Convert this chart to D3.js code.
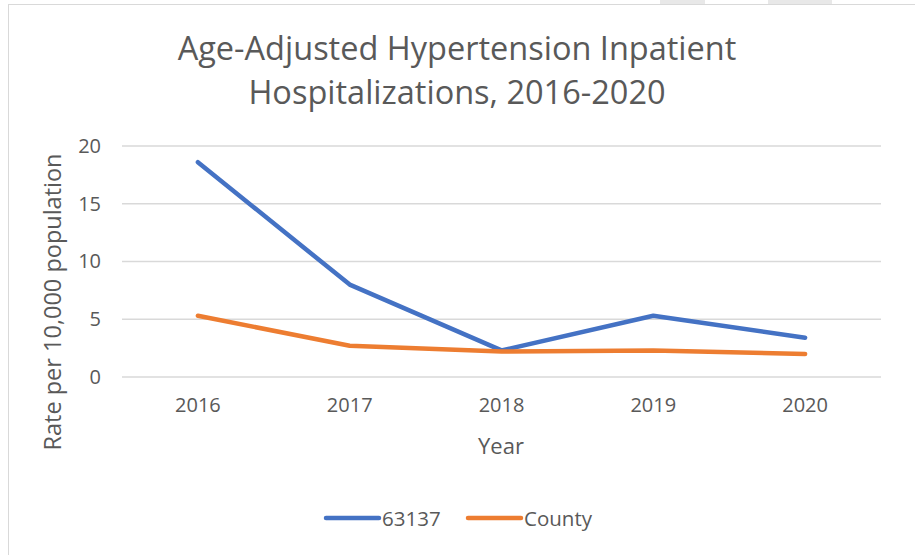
<!DOCTYPE html>
<html lang="en">
<head>
    <meta charset="UTF-8">
    <title>Age-Adjusted Hypertension Inpatient Hospitalizations</title>
    <script src="https://d3js.org/d3.v7.min.js"></script>
    <style>
        body { margin: 0; background: #fff; font-family: "Open Sans", Arial, sans-serif; }
        svg text { fill: #595959; }
    </style>
</head>
<body>
    <svg width="915" height="555"></svg>
    <script>
        // data
        const years = ["2016", "2017", "2018", "2019", "2020"];
        const zip63137 = [18.6, 8.0, 2.3, 5.3, 3.4];
        const county = [5.3, 2.7, 2.2, 2.3, 2.0];
        const yTicks = [0, 5, 10, 15, 20];
        const seriesNames = ["63137", "County"];
        const colors = ["#4472C4", "#ED7D31"];

        const svg = d3.select("svg");

        // chart frame
        svg.append("rect")
            .attr("x", 8.5).attr("y", 4.5)
            .attr("width", 920).attr("height", 560)
            .attr("fill", "#fff").attr("stroke", "#d9d9d9");
        svg.append("rect").attr("x", 660).attr("y", 0).attr("width", 45).attr("height", 4).attr("fill", "#e8e8e8");
        svg.append("rect").attr("x", 768).attr("y", 0).attr("width", 64).attr("height", 4).attr("fill", "#e8e8e8");

        const margin = { left: 122, right: 881, top: 146, bottom: 377 };

        const x = d3.scaleBand()
            .domain(years)
            .range([margin.left, margin.right]);

        const y = d3.scaleLinear()
            .domain([0, 20])
            .range([margin.bottom, margin.top]);

        // gridlines
        svg.append("g")
            .selectAll("line")
            .data(yTicks)
            .enter().append("line")
            .attr("x1", margin.left).attr("x2", margin.right)
            .attr("y1", d => y(d)).attr("y2", d => y(d))
            .attr("stroke", "#d9d9d9").attr("stroke-width", 1.3);

        // y axis
        const yAxis = svg.append("g")
            .attr("transform", `translate(${margin.left - 13},0)`)
            .call(d3.axisLeft(y).tickValues(yTicks).tickSize(0).tickPadding(8));
        yAxis.select(".domain").remove();
        yAxis.selectAll("text")
            .style("font-size", "20px").style("font-family", "'Open Sans', Arial, sans-serif")
            .attr("fill", "#595959");

        // x axis
        const xAxis = svg.append("g")
            .attr("transform", `translate(0,${margin.bottom})`)
            .call(d3.axisBottom(x).tickSize(0).tickPadding(21));
        xAxis.select(".domain").remove();
        xAxis.selectAll("text")
            .style("font-size", "20px").style("font-family", "'Open Sans', Arial, sans-serif")
            .attr("fill", "#595959");

        // lines
        const line = d3.line()
            .x((d, i) => x(years[i]) + x.bandwidth() / 2)
            .y(d => y(d));

        [zip63137, county].forEach((vals, i) => {
            svg.append("path")
                .datum(vals)
                .attr("d", line)
                .attr("fill", "none")
                .attr("stroke", colors[i])
                .attr("stroke-width", 4.5)
                .attr("stroke-linecap", "round")
                .attr("stroke-linejoin", "round");
        });

        // title
        const title = svg.append("text")
            .attr("text-anchor", "middle")
            .style("font-size", "32.5px")
            .style("font-family", "'Open Sans', Arial, sans-serif");
        title.append("tspan").attr("x", 457).attr("y", 60).text("Age-Adjusted Hypertension Inpatient");
        title.append("tspan").attr("x", 457).attr("y", 104).text("Hospitalizations, 2016-2020");

        // axis titles
        svg.append("text")
            .attr("x", 501).attr("y", 454)
            .attr("text-anchor", "middle")
            .style("font-size", "22px")
            .text("Year");
        svg.append("text")
            .attr("transform", "translate(61,302) rotate(-90)")
            .attr("text-anchor", "middle")
            .style("font-size", "23.5px")
            .text("Rate per 10,000 population");

        // legend
        const legendX = [326, 468];
        seriesNames.forEach((name, i) => {
            const g = svg.append("g").attr("transform", `translate(${legendX[i]},518)`);
            g.append("line")
                .attr("x1", 0).attr("x2", 53)
                .attr("y1", 0).attr("y2", 0)
                .attr("stroke", colors[i]).attr("stroke-width", 4.5)
                .attr("stroke-linecap", "round");
            g.append("text")
                .attr("x", 56).attr("y", 7.5)
                .style("font-size", "20.5px")
                .text(name);
        });
    </script>
</body>
</html>
